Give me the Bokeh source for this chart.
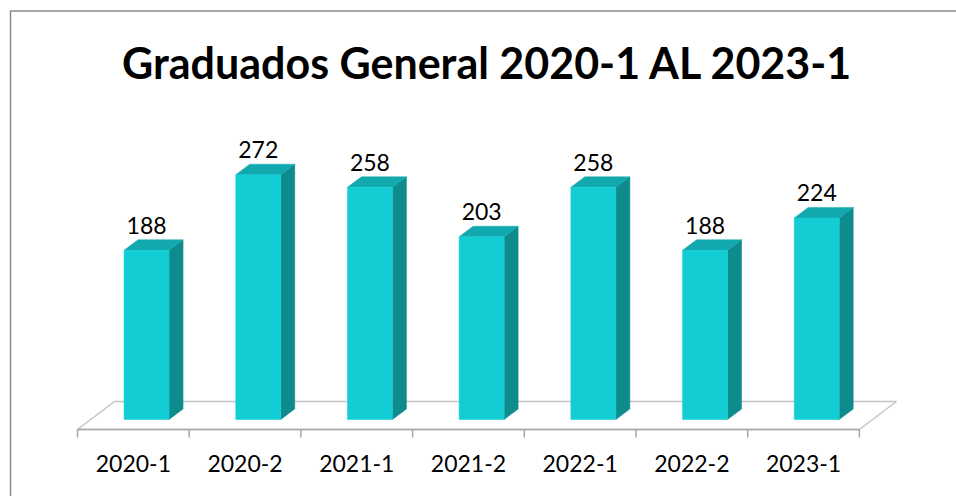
from bokeh.plotting import figure
from bokeh.models import Range1d, ColumnDataSource
from bokeh.core.properties import value
from bokeh.embed import file_html
from bokeh.resources import INLINE

# ---- data ----
categories = ["2020-1", "2020-2", "2021-1", "2021-2", "2022-1", "2022-2", "2023-1"]
graduados = [188, 272, 258, 203, 258, 188, 224]
title_text = "Graduados General 2020-1 AL 2023-1"

# ---- layout constants (pixels) ----
W, H = 956, 496
ORIGIN = 0              # page offset of the figure
PX_CAT = 111.7          # px per category
PX_UNIT = 0.9           # px per graduate
X0_PAGE = 77            # page x of first category boundary
Y0_PAGE = 419           # page y of value 0 (bar front base)

def cx(px):   # pixels -> category units
    return px / PX_CAT

def vy(px):   # pixels -> value units
    return px / PX_UNIT

x_start = cx(ORIGIN - X0_PAGE)
x_end = cx(ORIGIN + W - X0_PAGE)
y_end = vy(Y0_PAGE - ORIGIN)
y_start = vy(Y0_PAGE - (ORIGIN + H))

p = figure(width=W, height=H, output_backend="svg", toolbar_location=None,
           x_range=Range1d(x_start, x_end), y_range=Range1d(y_start, y_end),
           min_border=0, min_border_left=0, min_border_right=0,
           min_border_top=0, min_border_bottom=0)
p.axis.visible = False
p.grid.visible = False
p.outline_line_color = None
p.background_fill_color = "white"
p.border_fill_color = "white"

n = len(categories)

# ---- chart border (top and left) ----
bx = cx(10 - X0_PAGE)
by = vy(Y0_PAGE - 10.5)
p.line([bx, bx, x_end + 1], [y_start - 10, by, by], line_color="#8a8a8a", line_width=1.5)

# ---- floor ----
vF = vy(-10)           # front floor edge
vB = vy(18)            # back floor edge
dxF = cx(37)
p.patch([0, n, n + dxF, dxF], [vF, vF, vB, vB],
        fill_color="white", line_color="#c4c4c4", line_width=1.5)
p.line([0, n], [vF, vF], line_color="#a6a6a6", line_width=1.5)
tick_x = list(range(n + 1))
p.segment(x0=tick_x, y0=[vF] * (n + 1), x1=tick_x, y1=[vF - vy(8)] * (n + 1),
          line_color="#a6a6a6", line_width=1.5)

# ---- 3D bars ----
off = cx(13.2)
hw = cx(22.5)
ddx = cx(14)
ddy = vy(10.5)
lefts = [i + 0.5 + off - hw for i in range(n)]
rights = [i + 0.5 + off + hw for i in range(n)]

side_xs = [[r, r + ddx, r + ddx, r] for r in rights]
side_ys = [[0, ddy, v + ddy, v] for v in graduados]
top_xs = [[l, r, r + ddx, l + ddx] for l, r in zip(lefts, rights)]
top_ys = [[v, v, v + ddy, v + ddy] for v in graduados]

p.patches(side_xs, side_ys, fill_color="#0e8b8d", line_color="#0e8b8d", line_width=0.5)
p.patches(top_xs, top_ys, fill_color="#12a9ae", line_color="#12a9ae", line_width=0.5)
p.quad(left=lefts, right=rights, bottom=[0] * n, top=graduados,
       fill_color="#13cdd5", line_color="#13cdd5", line_width=0.5)

# ---- data labels ----
lab_src = ColumnDataSource(dict(x=[i + 0.5 + off for i in range(n)],
                                y=graduados,
                                t=[str(v) for v in graduados]))
p.text(x="x", y="y", text="t", source=lab_src, y_offset=-25,
       text_align="center", text_baseline="middle",
       text_font=value("Lato"), text_font_size="23px", text_color="#000000")

# ---- category labels ----
cat_src = ColumnDataSource(dict(x=[i + 0.5 for i in range(n)],
                                y=[vF] * n, t=categories))
p.text(x="x", y="y", text="t", source=cat_src, y_offset=34,
       text_align="center", text_baseline="middle",
       text_font=value("Lato"), text_font_size="23px", text_color="#000000")

# ---- title ----
p.text(x=[cx(487.5 - X0_PAGE)], y=[vy(Y0_PAGE - 62)], text=[title_text],
       text_align="center", text_baseline="middle",
       text_font=value("Lato"), text_font_style="bold",
       text_font_size="43px", text_color="#000000")

open("out.html", "w").write(file_html(p, INLINE))
